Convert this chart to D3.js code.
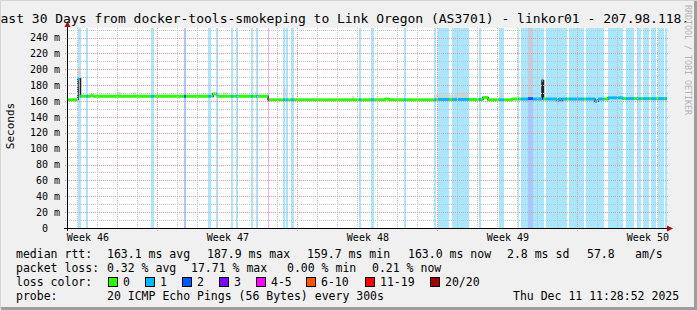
<!DOCTYPE html>
<html>
<head>
<meta charset="utf-8">
<script src="https://cdn.jsdelivr.net/npm/d3@7"></script>
<style>
  body { margin: 0; background: #f0f0f0; }
  svg { display: block; font-family: 'DejaVu Sans Mono', monospace; }
  text { white-space: pre; }
</style>
</head>
<body>
<div id="chart"></div>
<script>
// ---- data ----
var startTime = Date.UTC(2025, 10, 11, 11, 28, 52);
var endTime = Date.UTC(2025, 11, 11, 11, 28, 52);

var yTicks = [0, 20, 40, 60, 80, 100, 120, 140, 160, 180, 200, 220, 240];

// median rtt, step points: day offset from start, value in ms
var medianDay = [0, 0.5, 0.55, 0.675, 1.2, 1.3, 7.3, 7.525, 10.05, 15.9, 16.1, 18.5, 20.8, 21.05,
  22.25, 23.05, 23.3, 23.75, 23.825, 24.5, 24.6, 24.7, 24.775, 26.4, 26.55, 27.05, 27.8, 30];
var medianMs = [161.5, 162, 188, 166, 167, 166, 169, 166, 161.5, 162.5, 161.5, 162, 164.5, 161.5,
  162.5, 163, 162.5, 186, 162.5, 160.5, 162.5, 160.5, 162.5, 159.7, 162.5, 164, 163, 163];

// loss background bands: [fromDay, toDay, loss class]
var lossBands = [
  [0.55, 0.70, 1], [0.95, 1.05, 1], [4.20, 4.35, 1], [5.85, 5.95, 2], [7.05, 7.20, 1],
  [7.45, 7.55, 1], [8.20, 8.30, 1], [8.45, 8.55, 1], [9.20, 9.30, 1], [9.45, 9.55, 1],
  [10.05, 10.10, 4], [10.80, 10.90, 1], [10.95, 11.05, 1], [11.20, 11.35, 1], [14.60, 14.70, 1],
  [15.20, 15.35, 1], [16.85, 16.95, 1], [18.35, 18.45, 1], [18.55, 19.10, 1], [19.25, 20.10, 1],
  [20.60, 20.70, 1], [21.60, 21.85, 1], [22.55, 22.60, 1], [22.70, 23.05, 1], [23.05, 23.30, 2],
  [23.30, 23.85, 1], [23.95, 25.00, 1], [25.10, 25.85, 1], [25.95, 26.85, 1], [27.05, 27.80, 1],
  [27.95, 28.35, 1], [28.50, 28.70, 1], [28.80, 29.10, 1], [29.20, 29.45, 1], [29.55, 29.85, 1],
  [29.90, 30.00, 1]
];

// smoke (ping spread above the median): [fromDay, toDay, top ms]
var smoke = [
  [0.525, 0.675, 203], [2.55, 2.70, 171.5], [3.30, 3.45, 171], [4.85, 4.95, 168],
  [7.80, 8.00, 171], [9.40, 9.55, 171.5], [10.80, 10.95, 176], [11.25, 11.35, 167],
  [14.25, 14.35, 166], [18.35, 19.40, 168], [19.40, 20.10, 171], [21.65, 21.80, 172],
  [22.775, 22.85, 189], [23.05, 23.30, 252], [23.70, 23.85, 193], [28.15, 28.30, 167.5]
];

var lossLabels = ['0', '1', '2', '3', '4-5', '6-10', '11-19', '20/20'];
var lossColors = ['#26ff00', '#00b8ff', '#0059ff', '#7e00ff', '#ff00ff', '#ff5500', '#ff0000', '#a10000'];

var rttStats = ['163.1 ms avg', '187.9 ms max', '159.7 ms min', '163.0 ms now', '2.8 ms sd', '57.8', 'am/s'];
var lossStats = ['0.32 % avg', '17.71 % max', '0.00 % min', '0.21 % now'];
var probeText = '20 ICMP Echo Pings (56 Bytes) every 300s';
var stampText = 'Thu Dec 11 11:28:52 2025';
var titleText = 'ast 30 Days from docker-tools-smokeping to Link Oregon (AS3701) - linkor01 - 207.98.118.';

// ---- layout ----
var svgWidth = 697, svgHeight = 310;
var plotLeft = 67, plotTop = 28, plotWidth = 600, plotHeight = 200;

var svg = d3.select('#chart').append('svg')
  .attr('width', svgWidth)
  .attr('height', svgHeight);

svg.append('rect').attr('width', svgWidth).attr('height', svgHeight).attr('fill', '#f0f0f0');
// shaded frame
svg.append('path').attr('d', 'M0.5,309V0.5H697').attr('stroke', '#d4d4d4').attr('stroke-width', 1).attr('fill', 'none');
svg.append('path').attr('d', 'M1,308.5H695.5V1').attr('stroke', '#9e9e9e').attr('stroke-width', 3).attr('fill', 'none');

var x = d3.scaleUtc().domain([startTime, endTime]).range([plotLeft, plotLeft + plotWidth]);
var y = d3.scaleLinear().domain([0, 252]).range([plotTop + plotHeight, plotTop]);

function dayDate(d) { return new Date(startTime + d * 864e5); }
function medianAt(day) {
  var i = d3.bisectRight(medianDay, day) - 1;
  return medianMs[Math.max(0, Math.min(i, medianMs.length - 1))];
}
function lossAt(day) {
  for (var i = 0; i < lossBands.length; i++) {
    if (day >= lossBands[i][0] && day < lossBands[i][1]) return lossBands[i][2];
  }
  return 0;
}

var plot = svg.append('g');
plot.append('rect').attr('x', plotLeft).attr('y', plotTop)
  .attr('width', plotWidth).attr('height', plotHeight).attr('fill', '#fff');

// loss backgrounds
plot.selectAll('.band').data(lossBands).enter().append('rect')
  .attr('x', d => x(dayDate(d[0])))
  .attr('width', d => Math.max(1, x(dayDate(d[1])) - x(dayDate(d[0]))))
  .attr('y', plotTop).attr('height', plotHeight)
  .attr('fill', d => lossColors[d[2]])
  .attr('fill-opacity', 0.34);

// smoke
plot.selectAll('.smoke').data(smoke).enter().append('rect')
  .attr('x', d => x(dayDate(d[0])))
  .attr('width', d => Math.max(1, x(dayDate(d[1])) - x(dayDate(d[0]))))
  .attr('y', d => y(d[2]))
  .attr('height', d => y(medianAt((d[0] + d[1]) / 2) - 1) - y(d[2]))
  .attr('fill', '#cfcfcf')
  .attr('fill-opacity', 0.75);

// grid
var grid = svg.append('g').attr('fill', 'none').attr('stroke-dasharray', '1,1').attr('stroke-width', 1);
var crisp = v => Math.round(v) + 0.5;
var sundays = d3.utcSunday.range(new Date(startTime), new Date(endTime)).map(d => +d);
d3.utcDay.range(new Date(startTime), new Date(endTime)).forEach(function(d) {
  var major = sundays.indexOf(+d) >= 0;
  grid.append('line')
    .attr('x1', crisp(x(d))).attr('x2', crisp(x(d)))
    .attr('y1', plotTop).attr('y2', plotTop + plotHeight + (major ? 4 : 2))
    .attr('stroke', major ? '#e89a9a' : '#c4c4c4');
});
d3.range(10, 252, 10).forEach(function(v) {
  var major = v % 20 === 0;
  grid.append('line')
    .attr('x1', plotLeft - 2).attr('x2', plotLeft + plotWidth + 2)
    .attr('y1', crisp(y(v))).attr('y2', crisp(y(v)))
    .attr('stroke', major ? '#e89a9a' : '#c4c4c4');
});

// median line
var line = d3.line()
  .x(d => x(dayDate(d[0])))
  .y(d => y(d[1]))
  .curve(d3.curveStepAfter);
plot.append('path')
  .datum(medianDay.map((d, i) => [d, medianMs[i]]))
  .attr('d', line)
  .attr('fill', 'none')
  .attr('stroke', '#202020')
  .attr('stroke-width', 1.5);

var cols = d3.range(plotLeft, plotLeft + plotWidth);
function colDay(px) { return (x.invert(px + 0.5) - startTime) / 864e5; }
plot.selectAll('.med').data(cols).enter().append('rect')
  .attr('x', d => d)
  .attr('width', 1)
  .attr('y', d => y(medianAt(colDay(d))) - 1.5)
  .attr('height', 3)
  .attr('fill', d => lossColors[lossAt(colDay(d))]);

// axes
svg.append('line').attr('x1', plotLeft - 3).attr('x2', plotLeft + plotWidth + 1)
  .attr('y1', plotTop + plotHeight + 0.5).attr('y2', plotTop + plotHeight + 0.5).attr('stroke', '#000');
svg.append('line').attr('x1', plotLeft + 0.5).attr('x2', plotLeft + 0.5)
  .attr('y1', plotTop + plotHeight + 3).attr('y2', plotTop - 3).attr('stroke', '#000');
svg.append('path').attr('d', 'M64.5,27L70.5,27L67.5,21Z').attr('fill', '#a01010');
svg.append('path').attr('d', 'M667,225.5L667,231.5L673,228.5Z').attr('fill', '#a01010');

var yAxis = svg.append('g')
  .attr('transform', `translate(${plotLeft},0)`)
  .call(d3.axisLeft(y).tickValues(yTicks).tickSize(0).tickPadding(7)
    .tickFormat(v => v === 0 ? '0  ' : v + ' m'));
yAxis.select('.domain').remove();
yAxis.selectAll('text').attr('font-family', 'DejaVu Sans Mono').attr('font-size', '10px').attr('fill', '#000');

var weekNoons = d3.utcWednesday.range(new Date(startTime - 864e5), new Date(endTime))
  .map(d => new Date(+d + 12 * 3600e3))
  .filter(d => d >= startTime && d <= endTime);
var xAxis = svg.append('g')
  .attr('transform', `translate(0,${plotTop + plotHeight})`)
  .call(d3.axisBottom(x).tickValues(weekNoons).tickSize(0).tickPadding(6)
    .tickFormat(d3.utcFormat('Week %V')));
xAxis.select('.domain').remove();
xAxis.selectAll('text').attr('font-family', 'DejaVu Sans Mono').attr('font-size', '10px').attr('fill', '#000');

// titles
svg.append('text').attr('x', 0.5).attr('y', 23).attr('font-size', '13px').text(titleText);
svg.append('text')
  .attr('transform', 'translate(14,126) rotate(-90)')
  .attr('text-anchor', 'middle')
  .attr('font-size', '11px')
  .text('Seconds');
svg.append('text')
  .attr('transform', 'translate(685,5) rotate(90)')
  .attr('font-size', '8.3px')
  .attr('fill', '#b4b4b4')
  .text('RRDTOOL / TOBI OETIKER');

// legend
var legend = svg.append('g').attr('font-size', '11.5px');
function put(tx, px, py) { legend.append('text').attr('x', px).attr('y', py).text(tx); }
put('median rtt:', 16, 258);
[107, 207, 307, 408, 507, 587, 635].forEach((px, i) => put(rttStats[i], px, 258));
put('packet loss:', 16, 272);
[107, 191, 287, 372].forEach((px, i) => put(lossStats[i], px, 272));
put('loss color:', 16, 286);
[108.5, 145.5, 182.5, 219.5, 256.5, 306.5, 365.5, 430.5].forEach(function(px, i) {
  legend.append('rect').attr('x', px).attr('y', 277.5).attr('width', 9).attr('height', 9)
    .attr('fill', lossColors[i]).attr('stroke', '#000').attr('stroke-width', 1);
  put(lossLabels[i], px + 14.5, 286);
});
put('probe:', 16, 300);
put(probeText, 107, 300);
put(stampText, 513, 300);
</script>
</body>
</html>
